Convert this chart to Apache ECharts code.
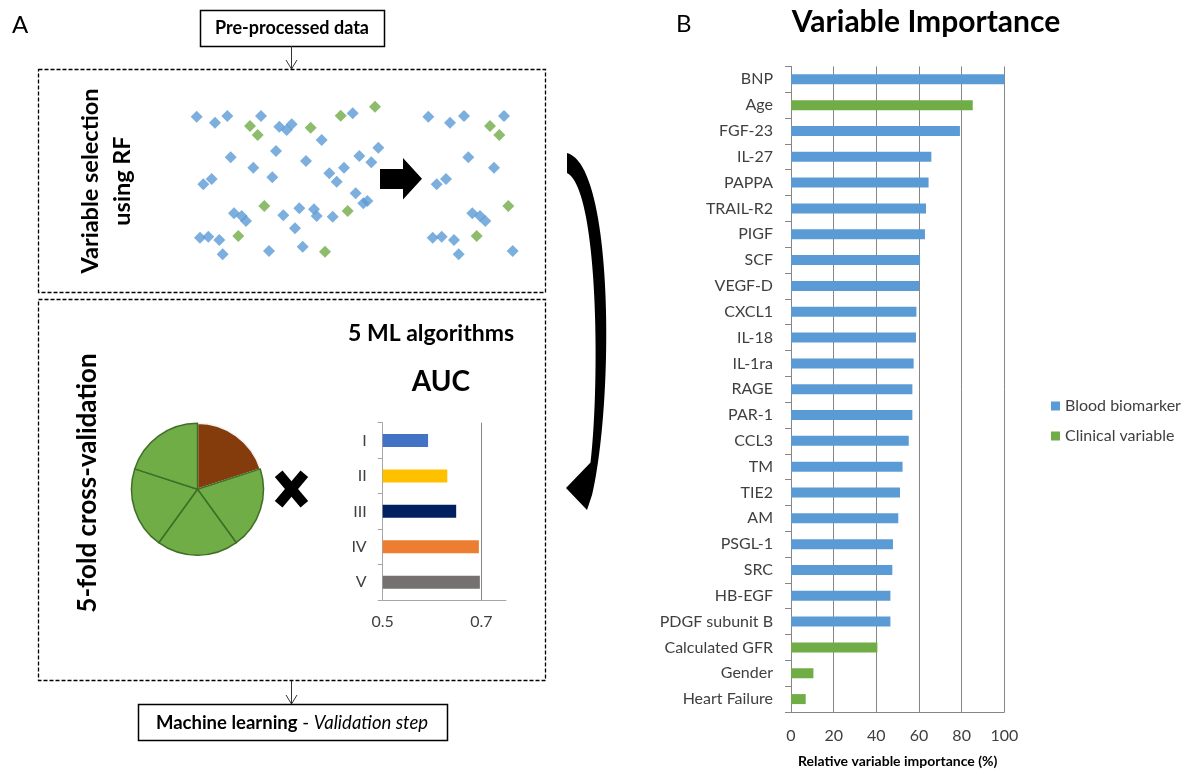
<!DOCTYPE html>
<html>
<head>
<meta charset="utf-8">
<script src="https://cdn.jsdelivr.net/npm/echarts@6/dist/echarts.min.js"></script>
<style>
  html, body { margin: 0; padding: 0; background: #ffffff; }
  #chart { width: 1192px; height: 773px; }
</style>
</head>
<body>
<div id="chart"></div>
<script>
// ---- Panel B: variable importance ----
const variableNames = ['BNP', 'Age', 'FGF-23', 'IL-27', 'PAPPA', 'TRAIL-R2', 'PIGF', 'SCF', 'VEGF-D', 'CXCL1',
  'IL-18', 'IL-1ra', 'RAGE', 'PAR-1', 'CCL3', 'TM', 'TIE2', 'AM', 'PSGL-1', 'SRC', 'HB-EGF',
  'PDGF subunit B', 'Calculated GFR', 'Gender', 'Heart Failure'];
const importance = [100, 85.2, 79.2, 65.8, 64.5, 63.3, 62.8, 60.5, 60.0, 58.8,
  58.6, 57.5, 56.9, 56.9, 55.2, 52.3, 51.1, 50.3, 47.8, 47.5, 46.6,
  46.6, 40.5, 10.5, 6.9];
const clinicalVariables = ['Age', 'Calculated GFR', 'Gender', 'Heart Failure'];
const groupNames = ['Blood biomarker', 'Clinical variable'];
const importanceTicks = [0, 20, 40, 60, 80, 100];

// ---- Panel A: AUC of the five ML algorithms ----
const algorithms = ['I', 'II', 'III', 'IV', 'V'];
const aucValues = [0.592, 0.631, 0.649, 0.695, 0.697];
const aucTickLabels = [0.5, 0.7];
const algorithmColors = ['#4472c4', '#ffc000', '#002060', '#ed7d31', '#767171'];

// ---- Panel A: 5-fold split ----
const folds = ['Fold 1', 'Fold 2', 'Fold 3', 'Fold 4', 'Fold 5'];
const foldSizes = [1, 1, 1, 1, 1];

// ---- Panel A: candidate variables before / after RF selection ----
const candidateBiomarkers = [
  [26.7, 26.7], [45, 32.7], [57.3, 26], [91, 26], [109.3, 36.7], [116.7, 40], [121.7, 34.3], [151.7, 50],
  [182.7, 23.3], [106, 61], [60.7, 67.3], [136, 71], [83.3, 77.7], [102.3, 87.3], [33.3, 94.3], [41.7, 89],
  [159.3, 83.3], [166.7, 91.7], [174, 77.7], [189.3, 66], [201.3, 72.3], [208.3, 57.7], [185.7, 103.3],
  [193.3, 113.3], [197.3, 111], [64, 123.3], [71.7, 126], [76, 131], [113.3, 125.3], [129.3, 118.3],
  [144, 119.3], [146.7, 126], [162.7, 126.7], [125, 138.3], [30, 147.7], [38.3, 146.7], [49.3, 150],
  [52.7, 164.3], [99, 161], [132.7, 156.7]
];
const candidateClinical = [
  [80, 36], [87.7, 45], [140.7, 37.7], [170.7, 25.7], [205, 16.7], [94.3, 116], [177.7, 121], [68.3, 146], [155, 161.7]
];
const selectedBiomarkers = [
  [258.3, 26.7], [280, 32.7], [294, 26], [334, 26], [298.3, 67.3], [324, 77.7], [266.7, 94.3], [276, 89],
  [302.3, 123.3], [310, 126], [315.3, 131], [262.7, 147.7], [271.7, 146.7], [284, 150], [288.7, 164.3], [342.7, 161]
];
const selectedClinical = [[320, 36], [329.3, 45], [338.3, 116], [306.7, 146]];

const BLUE = '#5b9bd5';
const GREEN = '#70ad47';
const AXIS_GREY = '#868686';
const TEXT = '#404040';
const FONT = 'Lato, "Open Sans", sans-serif';

const chart = echarts.init(document.getElementById('chart'), null, { renderer: 'canvas' });

const isClinical = name => clinicalVariables.indexOf(name) >= 0;
const biomarkerData = variableNames.map((n, i) => isClinical(n) ? '-' : importance[i]);
const clinicalData = variableNames.map((n, i) => isClinical(n) ? importance[i] : '-');

const near = (a, b) => Math.abs(a - b) < 1e-6;

// sample a cubic bezier into a list of points (for the curved arrow outline)
function cubic(p0, p1, p2, p3, n) {
  const pts = [];
  for (let k = 0; k <= n; k++) {
    const t = k / n, u = 1 - t;
    pts.push([
      u * u * u * p0[0] + 3 * u * u * t * p1[0] + 3 * u * t * t * p2[0] + t * t * t * p3[0],
      u * u * u * p0[1] + 3 * u * u * t * p1[1] + 3 * u * t * t * p2[1] + t * t * t * p3[1]
    ]);
  }
  return pts;
}
// crescent-shaped arrow: outer edge down, arrow head, inner edge back up
const arrowOuter = cubic([567, 153], [614, 165], [614, 400], [592, 495], 48);
const arrowInner = cubic([589, 474], [600, 400], [600, 190], [567, 173], 48);
const curvedArrow = arrowOuter.concat([[587, 510], [566, 488], [592, 461]], arrowInner);

// decorative workflow elements of panel A
const dashed = { stroke: '#000', lineWidth: 1.3, lineDash: [4, 2], fill: 'none' };
const thin = { stroke: '#333', lineWidth: 1, fill: 'none' };

const graphics = [
  { type: 'text', x: 12, y: 25, style: { text: 'A', font: '24px ' + FONT, fill: '#000', textVerticalAlign: 'middle' } },
  { type: 'text', x: 676, y: 24, style: { text: 'B', font: '24px ' + FONT, fill: '#000', textVerticalAlign: 'middle' } },
  { type: 'text', x: 926, y: 22, style: { text: 'Variable Importance', font: 'bold 30px ' + FONT, fill: '#000',
      textAlign: 'center', textVerticalAlign: 'middle' } },

  // input box
  { type: 'rect', shape: { x: 200.5, y: 10.5, width: 184, height: 36 }, style: { stroke: '#000', lineWidth: 1.5, fill: '#fff' } },
  { type: 'text', x: 292, y: 28.5, style: { text: 'Pre-processed data', font: 'bold 18px ' + FONT, fill: '#000',
      textAlign: 'center', textVerticalAlign: 'middle' } },
  { type: 'line', shape: { x1: 291.5, y1: 46, x2: 291.5, y2: 69 }, style: thin },
  { type: 'polyline', shape: { points: [[286, 60], [291.5, 69], [297, 60]] }, style: thin },

  // selection box
  { type: 'rect', shape: { x: 38.5, y: 69.5, width: 507, height: 223 }, style: dashed },
  { type: 'text', x: 106, y: 181, rotation: Math.PI / 2,
    style: { text: 'Variable selection\nusing RF', font: 'bold 23.5px ' + FONT, lineHeight: 32, fill: '#000',
      textAlign: 'center', textVerticalAlign: 'middle' } },
  { type: 'polygon', shape: { points: [[380, 169], [403, 169], [403, 158], [422, 178.7], [403, 199.5], [403, 189], [380, 189]] },
    style: { fill: '#000' } },

  // cross-validation box
  { type: 'rect', shape: { x: 38.5, y: 299.5, width: 507, height: 381 }, style: dashed },
  { type: 'text', x: 88, y: 483, rotation: Math.PI / 2,
    style: { text: '5-fold cross-validation', font: 'bold 26px ' + FONT, fill: '#000',
      textAlign: 'center', textVerticalAlign: 'middle' } },
  { type: 'text', x: 431, y: 334, style: { text: '5 ML algorithms', font: 'bold 23px ' + FONT, fill: '#000',
      textAlign: 'center', textVerticalAlign: 'middle' } },
  { type: 'text', x: 441, y: 382, style: { text: 'AUC', font: 'bold 28px ' + FONT, fill: '#000',
      textAlign: 'center', textVerticalAlign: 'middle' } },
  // multiplication mark between folds and algorithms
  { type: 'rect', x: 291.5, y: 489, rotation: 50 * Math.PI / 180, shape: { x: -20, y: -5, width: 40, height: 10 }, style: { fill: '#000' } },
  { type: 'rect', x: 291.5, y: 489, rotation: -50 * Math.PI / 180, shape: { x: -20, y: -5, width: 40, height: 10 }, style: { fill: '#000' } },

  // output box
  { type: 'line', shape: { x1: 291.5, y1: 681, x2: 291.5, y2: 704 }, style: thin },
  { type: 'polyline', shape: { points: [[286, 695], [291.5, 704], [297, 695]] }, style: thin },
  { type: 'rect', shape: { x: 138.5, y: 704.5, width: 309, height: 36 }, style: { stroke: '#000', lineWidth: 1.5, fill: '#fff' } },
  { type: 'text', x: 292, y: 723,
    style: { text: '{b|Machine learning} - {i|Validation step}', font: '18.5px ' + FONT, fill: '#000',
      textAlign: 'center', textVerticalAlign: 'middle',
      rich: {
        b: { fontWeight: 'bold', fontSize: 18.5, fontFamily: FONT, fill: '#000' },
        i: { fontStyle: 'italic', fontSize: 18.5, fontFamily: FONT, fill: '#000' }
      } } },

  // curved arrow leading from the selection step to the validation step
  { type: 'polygon', shape: { points: curvedArrow }, style: { fill: '#000' } }
];

const option = {
  animation: false,
  backgroundColor: '#ffffff',
  textStyle: { fontFamily: FONT },
  legend: {
    orient: 'vertical',
    left: 1046,
    top: 393,
    itemWidth: 9,
    itemHeight: 9,
    itemGap: 14,
    icon: 'rect',
    data: groupNames,
    textStyle: { fontSize: 16, color: TEXT, fontFamily: FONT }
  },
  grid: [
    // scatter of candidate variables
    { left: 170, top: 90, width: 380, height: 180, containLabel: false },
    // AUC bars
    { left: 382.7, top: 422.7, width: 123.3, height: 177.3, containLabel: false },
    // variable importance bars
    { left: 791, top: 66.4, width: 213.3, height: 645.8, containLabel: false }
  ],
  xAxis: [
    { gridIndex: 0, type: 'value', min: 0, max: 380, show: false },
    { gridIndex: 1, type: 'value', min: 0.5, max: 0.75, interval: 0.1,
      axisLine: { show: true, lineStyle: { color: '#a6a6a6', width: 1 } },
      axisTick: { show: false },
      splitLine: { show: false },
      axisLabel: { fontSize: 16, color: TEXT, margin: 14, fontFamily: FONT,
        formatter: v => aucTickLabels.some(t => near(t, v)) ? v.toFixed(1) : '' } },
    { gridIndex: 2, type: 'value', min: importanceTicks[0], max: importanceTicks[importanceTicks.length - 1],
      interval: importanceTicks[1] - importanceTicks[0],
      axisLine: { show: true, lineStyle: { color: AXIS_GREY, width: 1 } },
      axisTick: { show: false },
      splitLine: { show: true, lineStyle: { color: AXIS_GREY, width: 1 } },
      axisLabel: { fontSize: 16, color: TEXT, margin: 16, fontFamily: FONT },
      name: 'Relative variable importance (%)',
      nameLocation: 'middle',
      nameGap: 42,
      nameTextStyle: { fontSize: 14, fontWeight: 'bold', color: '#000', fontFamily: FONT } }
  ],
  yAxis: [
    { gridIndex: 0, type: 'value', min: 0, max: 180, inverse: true, show: false },
    { gridIndex: 1, type: 'category', data: algorithms, inverse: true,
      axisLine: { show: true, lineStyle: { color: '#a6a6a6', width: 1 } },
      axisTick: { show: true, length: 5, lineStyle: { color: '#a6a6a6' } },
      axisLabel: { fontSize: 16, color: TEXT, margin: 16, fontFamily: FONT } },
    { gridIndex: 2, type: 'category', data: variableNames, inverse: true,
      axisLine: { show: true, lineStyle: { color: AXIS_GREY, width: 1 } },
      axisTick: { show: true, length: 6, lineStyle: { color: AXIS_GREY } },
      axisLabel: { fontSize: 16, color: TEXT, margin: 18, fontFamily: FONT } }
  ],
  series: [
    // candidate variables, all
    { type: 'scatter', xAxisIndex: 0, yAxisIndex: 0, symbol: 'diamond', symbolSize: 12,
      itemStyle: { color: BLUE }, data: candidateBiomarkers, silent: true },
    { type: 'scatter', xAxisIndex: 0, yAxisIndex: 0, symbol: 'diamond', symbolSize: 12,
      itemStyle: { color: GREEN }, data: candidateClinical, silent: true },
    // variables kept by RF
    { type: 'scatter', xAxisIndex: 0, yAxisIndex: 0, symbol: 'diamond', symbolSize: 12,
      itemStyle: { color: BLUE }, data: selectedBiomarkers, silent: true },
    { type: 'scatter', xAxisIndex: 0, yAxisIndex: 0, symbol: 'diamond', symbolSize: 12,
      itemStyle: { color: GREEN }, data: selectedClinical, silent: true },

    // 5-fold split: one test fold, four training folds
    { type: 'pie', center: [197.5, 489.3], radius: 66, startAngle: 90, clockwise: true,
      label: { show: false }, labelLine: { show: false }, silent: true,
      data: folds.map((f, i) => ({
        name: f, value: foldSizes[i],
        itemStyle: i === 0
          ? { color: '#843c0c', borderColor: '#f2f2f2', borderWidth: 1.5 }
          : { color: GREEN, borderColor: '#3f6f27', borderWidth: 1.5 }
      })) },

    // AUC per algorithm
    { type: 'bar', xAxisIndex: 1, yAxisIndex: 1, barWidth: 13, silent: true,
      data: aucValues.map((v, i) => ({ value: v, itemStyle: { color: algorithmColors[i] } })),
      markLine: { symbol: 'none', silent: true, label: { show: false },
        lineStyle: { color: AXIS_GREY, type: 'solid', width: 1 },
        data: [{ xAxis: aucTickLabels[1] }] } },

    // variable importance
    { name: groupNames[0], type: 'bar', xAxisIndex: 2, yAxisIndex: 2, stack: 'vi', barWidth: 10,
      itemStyle: { color: BLUE }, data: biomarkerData },
    { name: groupNames[1], type: 'bar', xAxisIndex: 2, yAxisIndex: 2, stack: 'vi', barWidth: 10,
      itemStyle: { color: GREEN }, data: clinicalData }
  ],
  graphic: graphics
};

chart.setOption(option);
</script>
</body>
</html>
